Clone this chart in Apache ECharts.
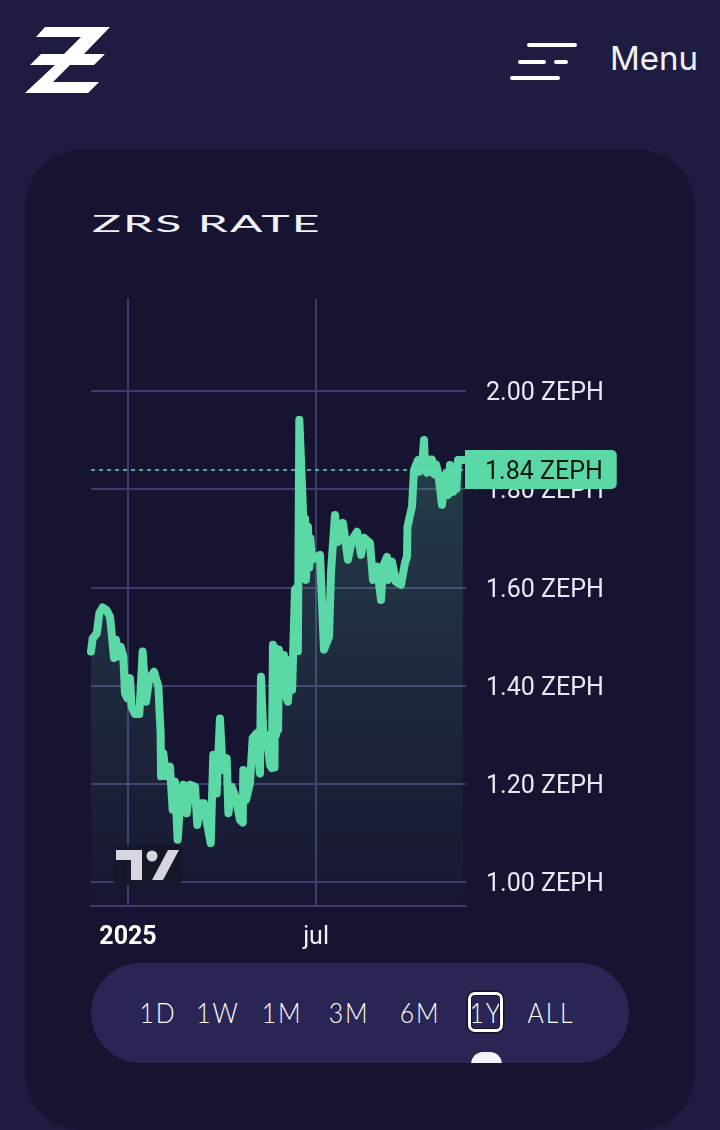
<!DOCTYPE html>
<html>
<head>
<meta charset="utf-8">
<title>ZRS Rate</title>
<script src="https://cdn.jsdelivr.net/npm/echarts@6/dist/echarts.min.js"></script>
<style>
  html, body { margin: 0; padding: 0; width: 720px; height: 1130px; overflow: hidden; background: #1e1d41; }
  .abs { position: absolute; }
  #card { left: 25px; top: 150px; width: 670px; height: 980px; background: #171431; border-radius: 56px; }
  #main { left: 0; top: 0; width: 720px; height: 1130px; }
  #menu { left: 610px; top: 38px; font: 400 33px/40px Inter, sans-serif; color: #f1f1f8; }
  #title { left: 92px; top: 208px; font: 400 23px/30px Lato, sans-serif; color: #f1f1f8; letter-spacing: 1px; transform-origin: 0 50%; transform: scaleX(2.09); white-space: nowrap; }
  #bar { left: 91px; top: 963px; width: 538px; height: 100px; background: #292655; border-radius: 50px; overflow: hidden; }
  #knob { left: 380px; top: 89px; width: 31px; height: 24px; border-radius: 14px; background: #f3f3f9; }
  .range { top: 1013px; width: 80px; margin-left: -40px; text-align: center; font: 300 27px/34px Lato, sans-serif; color: #ffffff; margin-top: -17px; letter-spacing: 2px; transform: scaleX(.92); }
  #active { left: 468px; top: 992px; width: 29px; height: 34px; border: 3.5px solid #fff; border-radius: 7px; box-shadow: 0 0 0 1.5px #14121f, inset 0 0 0 1px #14121f; }
</style>
</head>
<body>
<div id="card" class="abs"></div>

<svg class="abs" style="left:0;top:0" width="720" height="140">
  <polygon fill="#fff" points="45,27 110,27 84,54 105,54 94,65 70,65 53,82 99,82 88,93 25,93 55,65 30,65 41,54 64,54 81,37 36,37"/>
  <g stroke="#fff" stroke-width="4" stroke-linecap="round">
    <line x1="529" y1="45" x2="575" y2="45"/>
    <line x1="520" y1="62" x2="544" y2="62"/>
    <line x1="556" y1="62" x2="566" y2="62"/>
    <line x1="512" y1="78" x2="558" y2="78"/>
  </g>
</svg>
<div id="menu" class="abs">Menu</div>
<div id="title" class="abs">ZRS RATE</div>

<div id="main" class="abs"></div>

<svg class="abs" style="left:0;top:0;pointer-events:none" width="720" height="900">
  <rect x="113" y="845" width="69" height="40" rx="5" fill="#131726" fill-opacity="0.9"/>
  <polygon fill="#d5d6e0" points="116,850 142,850 142,880 131,880 131,860 116,860"/>
  <circle fill="#d5d6e0" cx="152" cy="856" r="5.5"/>
  <polygon fill="#d5d6e0" points="168,850 179,850 163,880 152,880"/>
</svg>

<div id="bar" class="abs"><div id="knob" class="abs"></div></div>
<div id="ranges"></div>
<div id="active" class="abs"></div>

<script>
// days counted from 2025-01-01
var rateDays = [-35.6, -34, -30, -27.6, -24.4, -20.5, -17.3, -15.7, -13.5, -11.6, -9.3, -7, -4.5, -2.9, -0.6, 1.9, 3.5, 6.7, 10.9, 12.5,
    14.1, 15.7, 17.3, 20.5, 25, 29.2, 31.4, 31.8, 34, 36.6, 40.4, 43, 45.2, 47.8, 50, 53.3, 56.5, 59.7, 64.5, 66.7,
    70, 73.1, 75.7, 79.6, 82.1, 85.3, 88.5, 91.1, 95, 96.6, 99.8, 104, 107.8, 110.4, 111, 113.6, 117.4, 120, 123.8, 127,
    128, 130.2, 133.5, 136.7, 138.5, 139.5, 141, 141.5, 142.5, 143.5, 144.5, 145.3, 147.3, 148.5, 149.5, 150, 151.5, 152.5, 154, 156, 158, 159, 160.7, 161.5, 162.7, 163.5, 164.9, 168.4, 169.5, 170.4, 171.3,
    173.2, 174.5, 175.5, 177.1, 184.8, 188.6, 193.5, 195.4, 199.2, 202.1, 206.9, 211.7, 215.6, 220.4, 224.3, 227.1, 232.9, 235.8, 239.7, 243.5, 245.4, 249.3,
    250.2, 254.1, 257.9, 262.8, 266.6, 268.5, 269, 273.3, 275.3, 277, 279.1, 280.5, 282, 283.5, 284.9, 286, 287.8, 289, 290.7, 291.5, 292.5, 293.6, 295, 296.5, 298.4, 302.2, 305.1, 308, 309.9,
    311.3, 312.8, 314.5, 316, 317.6, 322.4];
var rateValues = [1.469, 1.496, 1.506, 1.547, 1.559, 1.553, 1.540, 1.506, 1.456, 1.493, 1.459, 1.479, 1.459, 1.384, 1.374, 1.415, 1.357, 1.342, 1.342, 1.405,
    1.469, 1.418, 1.367, 1.415, 1.428, 1.398, 1.303, 1.215, 1.262, 1.215, 1.235, 1.147, 1.204, 1.086, 1.153, 1.198, 1.140, 1.198, 1.194, 1.116,
    1.160, 1.160, 1.123, 1.079, 1.259, 1.180, 1.333, 1.228, 1.252, 1.140, 1.194, 1.170, 1.126, 1.121, 1.228, 1.167, 1.201, 1.293, 1.303, 1.221,
    1.418, 1.303, 1.299, 1.238, 1.232, 1.483, 1.233, 1.477, 1.30, 1.47, 1.31, 1.473, 1.381, 1.455, 1.385, 1.462, 1.445, 1.375, 1.367, 1.452, 1.391, 1.470, 1.595, 1.47, 1.60, 1.47, 1.941, 1.758, 1.63, 1.74, 1.615,
    1.723, 1.64, 1.70, 1.656, 1.666, 1.473, 1.499, 1.631, 1.747, 1.692, 1.731, 1.656, 1.697, 1.713, 1.666, 1.701, 1.690, 1.615, 1.642, 1.574, 1.642, 1.662,
    1.615, 1.652, 1.611, 1.605, 1.650, 1.662, 1.723, 1.764, 1.839, 1.835, 1.859, 1.835, 1.833, 1.86, 1.900, 1.84, 1.833, 1.86, 1.859, 1.835, 1.86, 1.849, 1.83, 1.85, 1.833, 1.768, 1.829, 1.788, 1.849,
    1.82, 1.794, 1.845, 1.80, 1.859, 1.859];
var xTicks = [0, 181];
var xLabels = ['2025', 'jul'];
var yTicks = [1, 1.2, 1.4, 1.6, 1.8, 2];
var lastPrice = 1.84;
var rangeLabels = ['1D', '1W', '1M', '3M', '6M', '1Y', 'ALL'];
var rangeCenters = [158, 218, 282, 349, 420, 486, 551];

rangeLabels.forEach(function (t, i) {
    var d = document.createElement('div');
    d.className = 'abs range';
    d.style.left = rangeCenters[i] + 'px';
    d.textContent = t;
    document.getElementById('ranges').appendChild(d);
});

var gridColor = '#403b6e';
var myChart = echarts.init(document.getElementById('main'), null, { renderer: 'canvas' });
myChart.setOption({
    animation: false,
    grid: { left: 91, top: 299, width: 375, height: 607, containLabel: false },
    xAxis: {
        type: 'value',
        min: -35.6,
        max: 325.3,
        axisLine: { show: true, onZero: false, lineStyle: { color: gridColor, width: 2 } },
        axisTick: { show: false, customValues: xTicks },
        splitLine: { show: true, lineStyle: { color: gridColor, width: 2 } },
        axisLabel: {
            customValues: xTicks,
            margin: 19,
            formatter: function (v) {
                return v === 0 ? '{b|' + xLabels[0] + '}' : '{n|' + xLabels[1] + '}';
            },
            rich: {
                b: { fontFamily: 'Roboto', fontSize: 25, fontWeight: 'bold', color: '#ffffff' },
                n: { fontFamily: 'Roboto', fontSize: 25, color: '#f1f1f8' }
            }
        }
    },
    yAxis: {
        type: 'value',
        position: 'right',
        min: 0.951,
        max: 2.187,
        axisLine: { show: true, lineStyle: { color: gridColor, width: 2 } },
        axisTick: { show: false, customValues: yTicks },
        splitLine: { show: true, lineStyle: { color: gridColor, width: 2 } },
        axisLabel: {
            customValues: yTicks,
            margin: 20,
            formatter: function (v) { return '{t|' + v.toFixed(2) + ' ZEPH}'; },
            rich: {
                t: { fontFamily: 'Roboto', fontSize: 25, color: '#e9e9f2', padding: [6, 0, 0, 0] }
            }
        }
    },
    series: [{
        type: 'line',
        data: rateDays.map(function (d, i) { return [d, rateValues[i]]; }),
        showSymbol: false,
        smooth: false,
        clip: true,
        lineStyle: { color: '#5ad8a6', width: 8, cap: 'round', join: 'round' },
        areaStyle: {
            color: new echarts.graphic.LinearGradient(0, 0, 0, 1, [
                { offset: 0, color: 'rgba(90,216,166,0.32)' },
                { offset: 1, color: 'rgba(90,216,166,0.02)' }
            ])
        },
        markLine: {
            silent: true,
            symbol: 'none',
            animation: false,
            lineStyle: { color: '#62dcc0', type: [4, 4], width: 1.5 },
            label: {
                show: true,
                position: 'end',
                distance: -1,
                formatter: '{t|' + lastPrice.toFixed(2) + ' ZEPH}',
                backgroundColor: '#5ad8a6',
                padding: [5, 14, 6, 20],
                borderRadius: [0, 5, 5, 0],
                rich: {
                    t: { fontFamily: 'Roboto', fontSize: 25, lineHeight: 28, color: '#0b1512', padding: [8, 0, 0, 0] }
                }
            },
            data: [{ yAxis: lastPrice }]
        }
    }]
});
</script>
</body>
</html>
